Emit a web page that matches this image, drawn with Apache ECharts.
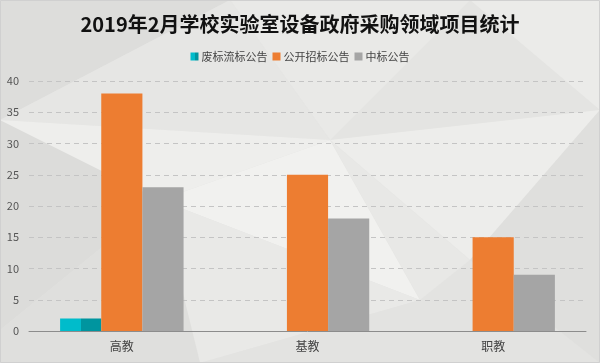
<!DOCTYPE html>
<html>
<head>
<meta charset="utf-8">
<script src="https://cdn.jsdelivr.net/npm/echarts@6/dist/echarts.min.js"></script>
<style>html,body{margin:0;padding:0;}#c{width:600px;height:363px;}</style>
</head>
<body>
<div id="c"></div>
<script>
const categories = ['高教', '基教', '职教'];
const seriesNames = ['废标流标公告', '公开招标公告', '中标公告'];
const failedBids = [2, 0, 0];
const openTenders = [38, 25, 15];
const awardNotices = [23, 18, 9];
const yTicks = [0, 5, 10, 15, 20, 25, 30, 35, 40];

const chart = echarts.init(document.getElementById('c'), null, {renderer: 'canvas'});
const font = '"Noto Sans CJK SC", "Microsoft YaHei", sans-serif';
const cyan = {type: 'linear', x: 0, y: 0, x2: 1, y2: 0, colorStops: [
  {offset: 0, color: '#00bccb'}, {offset: 0.5, color: '#00bccb'},
  {offset: 0.5, color: '#00959f'}, {offset: 1, color: '#00959f'}]};

function tri(points, fill) {
  return {type: 'polygon', z: -10, silent: true, shape: {points: points}, style: {fill: fill}};
}

chart.setOption({
  backgroundColor: '#e3e3e1',
  textStyle: {fontFamily: font},
  graphic: [
    tri([[0,0],[600,0],[600,363],[0,363]], '#e4e4e2'),
    tri([[0,0],[230,0],[0,120]], '#dddddb'),
    tri([[230,0],[470,0],[330,140]], '#e9e9e7'),
    tri([[470,0],[600,0],[600,110]], '#ebebe9'),
    tri([[0,120],[230,0],[330,140]], '#e6e6e4'),
    tri([[0,330],[0,120],[160,200]], '#dcdcda'),
    tri([[160,200],[330,140],[420,300]], '#f1f1ef'),
    tri([[330,140],[600,110],[470,260]], '#ededeb'),
    tri([[0,120],[330,140],[160,200]], '#eeeeec'),
    tri([[160,200],[420,300],[200,363]], '#e9e9e7'),
    tri([[0,330],[160,200],[200,363],[0,363]], '#dfdfdd'),
    tri([[420,300],[470,260],[600,363],[200,363]], '#e3e3e1'),
    tri([[470,260],[600,110],[600,363]], '#dfdfdd'),
    tri([[330,140],[470,260],[420,300]], '#e8e8e6'),
    {type: 'rect', z: -9, silent: true, shape: {x: 0.5, y: 0.5, width: 599, height: 362},
     style: {fill: 'none', stroke: '#d0d0d0', lineWidth: 1}}
  ],
  title: {
    text: '2019年2月学校实验室设备政府采购领域项目统计',
    left: 'center', top: 9,
    textStyle: {fontSize: 20, fontWeight: 'bold', color: '#111', fontFamily: font}
  },
  legend: {
    top: 46, left: 'center',
    itemWidth: 8, itemHeight: 8, itemGap: 5,
    textStyle: {fontSize: 11, color: '#444', fontFamily: font, padding: [0, 0, 0, -2]},
    data: seriesNames.map(n => ({name: n, icon: 'rect'}))
  },
  grid: {left: 29, right: 14, top: 81, bottom: 32, containLabel: false},
  xAxis: {
    type: 'category', data: categories,
    axisLine: {lineStyle: {color: '#8c8c8c', width: 1}},
    axisTick: {show: false},
    axisLabel: {color: '#444', fontSize: 12, margin: 9, fontFamily: font}
  },
  yAxis: {
    type: 'value', min: 0, max: 40, interval: 5,
    axisLine: {show: false}, axisTick: {show: false},
    axisLabel: {color: '#555', fontSize: 11, margin: 10, fontFamily: font,
      formatter: v => yTicks.includes(v) ? String(v) : ''},
    splitLine: {lineStyle: {color: '#c4c4c4', type: [5, 4], width: 1}}
  },
  series: [
    {name: seriesNames[0], type: 'bar', data: failedBids, barGap: '0%', barCategoryGap: '33.5%',
     itemStyle: {color: cyan}},
    {name: seriesNames[1], type: 'bar', data: openTenders, barGap: '0%', barCategoryGap: '33.5%',
     itemStyle: {color: '#ed7d31'}},
    {name: seriesNames[2], type: 'bar', data: awardNotices, barGap: '0%', barCategoryGap: '33.5%',
     itemStyle: {color: '#a5a5a5'}}
  ],
  animation: false
});
</script>
</body>
</html>
